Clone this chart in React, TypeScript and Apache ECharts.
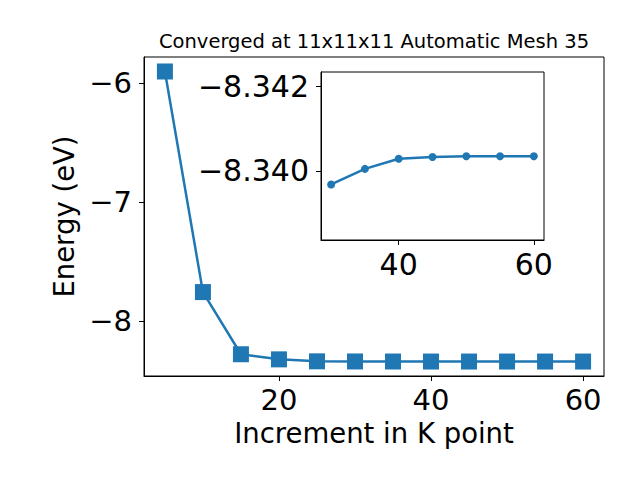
import React, { useEffect, useRef } from "react";
import * as echarts from "echarts";

const kpoints = [5, 10, 15, 20, 25, 30, 35, 40, 45, 50, 55, 60];
const energies = [-5.9, -7.756, -8.279, -8.322, -8.3385, -8.33968, -8.34005, -8.34029, -8.34033, -8.34035, -8.34035, -8.34035];
const insetStart = 5; // inset shows k = 30..60
const mainXTicks = [20, 40, 60];
const mainYTicks = [-8, -7, -6];
const insetXTicks = [40, 60];
const insetYTicks = [-8.342, -8.34];
const titleText = "Converged at 11x11x11 Automatic Mesh 35";
const xName = "Increment in K point";
const yName = "Energy (eV)";

const FONT = "DejaVu Sans";
const BLUE = "#1f77b4";

export default function App() {
  const ref = useRef<HTMLDivElement>(null);
  useEffect(() => {
    if (!ref.current) return;
    const chart = echarts.init(ref.current, undefined, { renderer: "svg" });
    const mainData = kpoints.map((k, i) => [k, energies[i]]);
    const insetData = kpoints.slice(insetStart).map((k, i) => [k, energies[i + insetStart]]);
    const axisCommon = {
      axisLine: { show: true, onZero: false, lineStyle: { color: "#000", width: 1 } },
      axisTick: { show: true, inside: false, length: 5, lineStyle: { color: "#000", width: 1 } },
      splitLine: { show: false },
    };
    chart.setOption({
      animation: false,
      backgroundColor: "#fff",
      graphic: [
        {
          type: "text",
          x: 374,
          y: 41,
          style: {
            text: titleText,
            fill: "#000",
            font: `19.5px "${FONT}"`,
            textAlign: "center",
            textVerticalAlign: "middle",
          },
        },
      ],
      grid: [
        { left: 144, top: 57, width: 460, height: 319, show: true, borderColor: "#000", borderWidth: 1, backgroundColor: "transparent" },
        { left: 321, top: 72, width: 223, height: 168, show: true, borderColor: "#000", borderWidth: 1, backgroundColor: "#fff" },
      ],
      xAxis: [
        {
          type: "value",
          gridIndex: 0,
          min: 2.25,
          max: 62.75,
          ...axisCommon,
          axisTick: { ...axisCommon.axisTick, customValues: mainXTicks },
          axisLabel: { customValues: mainXTicks, color: "#000", fontFamily: FONT, fontSize: 29, margin: 9 },
          name: xName,
          nameLocation: "middle",
          nameGap: 37,
          nameTextStyle: { color: "#000", fontFamily: FONT, fontSize: 27.5 },
        },
        {
          type: "value",
          gridIndex: 1,
          min: 28.5,
          max: 61.5,
          ...axisCommon,
          axisTick: { ...axisCommon.axisTick, customValues: insetXTicks },
          axisLabel: { customValues: insetXTicks, color: "#000", fontFamily: FONT, fontSize: 30, margin: 9 },
        },
      ],
      yAxis: [
        {
          type: "value",
          gridIndex: 0,
          min: -8.462,
          max: -5.778,
          ...axisCommon,
          axisTick: { ...axisCommon.axisTick, customValues: mainYTicks },
          axisLabel: {
            customValues: mainYTicks,
            color: "#000",
            fontFamily: FONT,
            fontSize: 29,
            margin: 12,
            formatter: (v: number) => String(v).replace("-", "\u2212"),
          },
          name: yName,
          nameLocation: "middle",
          nameGap: 58,
          nameRotate: 90,
          nameTextStyle: { color: "#000", fontFamily: FONT, fontSize: 27.5 },
        },
        {
          type: "value",
          gridIndex: 1,
          inverse: true,
          min: -8.34235,
          max: -8.33836,
          ...axisCommon,
          axisTick: { ...axisCommon.axisTick, customValues: insetYTicks },
          axisLabel: {
            customValues: insetYTicks,
            color: "#000",
            fontFamily: FONT,
            fontSize: 30,
            margin: 12,
            formatter: (v: number) => v.toFixed(3).replace("-", "\u2212"),
          },
        },
      ],
      series: [
        {
          type: "line",
          xAxisIndex: 0,
          yAxisIndex: 0,
          data: mainData,
          symbol: "rect",
          symbolSize: 16,
          lineStyle: { color: BLUE, width: 2.5 },
          itemStyle: { color: BLUE },
          z: 2,
        },
        {
          type: "line",
          xAxisIndex: 1,
          yAxisIndex: 1,
          data: insetData,
          symbol: "circle",
          symbolSize: 8,
          lineStyle: { color: BLUE, width: 2.5 },
          itemStyle: { color: BLUE },
          z: 5,
        },
      ],
    });
    return () => chart.dispose();
  }, []);
  return <div ref={ref} style={{ width: 640, height: 480, margin: -8 }} />;
}
